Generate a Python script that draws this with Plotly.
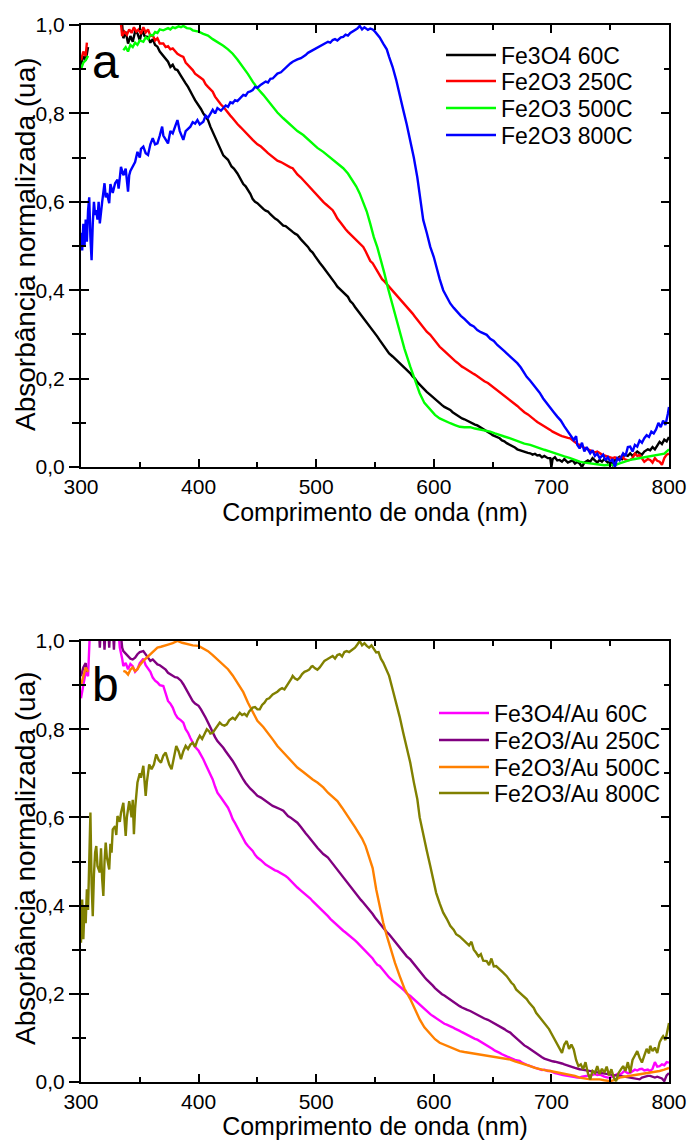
import plotly.graph_objects as go

# ---------------- data (wavelength nm, normalised absorbance) ----------------
# None pairs mark gaps in the recorded spectra
fe3o4_60c = [(300,0.91),(302,0.93),(304,0.92),(306,0.95),(None,None),(334,1.03),(336,0.97),(338,0.985),(340,0.958),(342,0.975),(344,0.962),(346,0.985),(348,0.981),(350,0.965),(352,0.99),(354,0.975),(357,0.973),(359,0.96),(361,0.968),(363,0.955),(365,0.951),(367,0.94),(370,0.93),(372,0.925),(374,0.917),(376,0.905),(378,0.91),(380,0.9),(382,0.898),(385,0.885),(387,0.875),(389,0.868),(391,0.86),(393,0.848),(395,0.84),(397,0.83),(400,0.819),(402,0.81),(404,0.8),(406,0.793),(408,0.785),(410,0.77),(412,0.758),(414,0.745),(416,0.732),(419,0.715),(421,0.705),(423,0.7),(425,0.695),(428,0.68),(430,0.675),(433,0.664),(436,0.65),(438,0.64),(440,0.635),(442,0.627),(444,0.618),(446,0.606),(448,0.6),(450,0.597),(453,0.588),(455,0.584),(457,0.58),(459,0.578),(461,0.572),(463,0.566),(465,0.562),(467,0.559),(470,0.55),(472,0.546),(474,0.545),(476,0.54),(478,0.535),(480,0.532),(482,0.528),(484,0.525),(487,0.515),(489,0.51),(491,0.505),(493,0.498),(495,0.49),(497,0.485),(499,0.477),(501,0.468),(503,0.462),(506,0.452),(508,0.445),(510,0.438),(512,0.432),(514,0.425),(516,0.416),(518,0.408),(521,0.4),(523,0.395),(525,0.389),(527,0.385),(529,0.375),(531,0.37),(533,0.362),(535,0.355),(538,0.345),(540,0.338),(542,0.332),(544,0.325),(546,0.317),(548,0.31),(550,0.302),(552,0.295),(554,0.287),(556,0.28),(558,0.272),(560,0.265),(562,0.257),(565,0.25),(567,0.245),(569,0.24),(571,0.235),(573,0.23),(575,0.224),(577,0.218),(580,0.212),(582,0.205),(584,0.2),(586,0.192),(588,0.186),(590,0.18),(592,0.175),(594,0.17),(597,0.163),(599,0.158),(601,0.153),(603,0.148),(605,0.144),(607,0.14),(609,0.136),(611,0.133),(614,0.129),(616,0.124),(618,0.12),(620,0.117),(622,0.114),(624,0.11),(626,0.108),(628,0.105),(631,0.102),(633,0.098),(635,0.096),(637,0.094),(639,0.091),(641,0.087),(643,0.084),(646,0.08),(648,0.076),(650,0.072),(652,0.07),(654,0.067),(656,0.065),(658,0.06),(660,0.058),(662,0.054),(665,0.05),(667,0.047),(669,0.044),(671,0.04),(673,0.038),(675,0.036),(677,0.034),(680,0.032),(682,0.031),(684,0.028),(686,0.03),(688,0.026),(690,0.027),(692,0.022),(694,0.025),(697,0.02),(699,0.02),(700,0.0),(701,0.018),(703,0.022),(705,0.015),(707,0.016),(709,0.012),(711,0.018),(714,0.01),(716,0.012),(718,0.015),(720,0.008),(722,0.012),(724,0.008),(726,0.0),(728,0.01),(731,0.015),(733,0.012),(735,0.02),(737,0.015),(739,0.01),(741,0.016),(743,0.012),(745,0.018),(748,0.01),(750,0.012),(752,0.005),(754,0.015),(756,0.02),(758,0.023),(760,0.018),(762,0.028),(765,0.025),(767,0.031),(769,0.025),(771,0.03),(773,0.035),(775,0.031),(777,0.028),(779,0.035),(782,0.04),(784,0.038),(786,0.045),(788,0.04),(790,0.05),(792,0.057),(794,0.052),(796,0.062),(798,0.058),(800,0.068)]

fe2o3_250c = [(300,0.92),(302,0.94),(304,0.93),(305,0.96),(None,None),(333,1.03),(335,0.975),(337,0.985),(339,0.978),(341,0.99),(343,0.982),(345,0.995),(347,0.985),(349,0.99),(351,0.98),(353,0.995),(355,0.983),(357,0.99),(359,0.975),(361,0.977),(363,0.965),(365,0.97),(367,0.958),(370,0.958),(372,0.95),(374,0.952),(376,0.945),(378,0.947),(380,0.94),(382,0.935),(385,0.93),(387,0.928),(389,0.915),(391,0.91),(393,0.905),(395,0.898),(397,0.89),(400,0.885),(402,0.88),(404,0.876),(406,0.866),(408,0.86),(410,0.855),(412,0.849),(414,0.838),(416,0.83),(419,0.82),(421,0.815),(423,0.808),(425,0.8),(427,0.795),(429,0.789),(431,0.782),(433,0.776),(436,0.768),(438,0.762),(440,0.757),(442,0.752),(444,0.745),(446,0.74),(448,0.735),(450,0.73),(453,0.725),(455,0.721),(457,0.715),(459,0.71),(461,0.706),(463,0.702),(465,0.697),(467,0.693),(470,0.69),(472,0.687),(474,0.683),(476,0.68),(478,0.678),(480,0.676),(482,0.668),(484,0.662),(487,0.655),(489,0.649),(491,0.643),(493,0.637),(495,0.632),(497,0.627),(499,0.62),(501,0.613),(503,0.607),(506,0.6),(508,0.595),(510,0.59),(512,0.585),(514,0.581),(516,0.572),(518,0.562),(521,0.552),(523,0.544),(525,0.538),(527,0.532),(529,0.527),(531,0.521),(533,0.515),(535,0.51),(538,0.503),(540,0.498),(542,0.488),(544,0.478),(546,0.466),(548,0.461),(550,0.452),(552,0.442),(554,0.432),(556,0.425),(558,0.42),(560,0.414),(562,0.408),(565,0.398),(567,0.392),(569,0.387),(571,0.382),(573,0.375),(575,0.369),(577,0.362),(580,0.355),(582,0.347),(584,0.34),(586,0.333),(588,0.325),(590,0.318),(592,0.312),(594,0.306),(597,0.299),(599,0.292),(601,0.285),(603,0.279),(605,0.272),(607,0.267),(609,0.262),(611,0.256),(614,0.25),(616,0.245),(618,0.24),(620,0.236),(622,0.231),(624,0.227),(626,0.224),(628,0.22),(631,0.216),(633,0.212),(635,0.209),(637,0.205),(639,0.201),(641,0.198),(643,0.194),(646,0.19),(648,0.186),(650,0.182),(652,0.178),(654,0.174),(656,0.17),(658,0.165),(660,0.161),(662,0.157),(665,0.152),(667,0.147),(669,0.142),(671,0.138),(673,0.133),(675,0.128),(677,0.124),(680,0.119),(682,0.114),(684,0.11),(686,0.106),(688,0.102),(690,0.099),(692,0.095),(694,0.092),(697,0.088),(699,0.084),(701,0.08),(703,0.077),(705,0.074),(707,0.072),(709,0.07),(711,0.068),(714,0.066),(716,0.065),(718,0.06),(720,0.055),(722,0.052),(724,0.05),(726,0.046),(728,0.043),(731,0.04),(733,0.038),(735,0.036),(737,0.033),(739,0.035),(741,0.031),(743,0.028),(745,0.026),(748,0.024),(750,0.023),(752,0.02),(754,0.022),(756,0.018),(758,0.02),(760,0.025),(762,0.018),(765,0.015),(767,0.016),(769,0.02),(771,0.03),(773,0.025),(775,0.027),(777,0.02),(779,0.012),(782,0.018),(784,0.016),(786,0.01),(788,0.02),(790,0.014),(792,0.012),(794,0.005),(796,0.02),(798,0.028),(800,0.03)]

fe2o3_500c = [(300,0.9),(302,0.915),(304,0.92),(306,0.93),(None,None),(336,0.943),(338,0.95),(340,0.94),(342,0.955),(344,0.95),(346,0.96),(348,0.955),(350,0.965),(353,0.962),(355,0.972),(357,0.968),(359,0.978),(361,0.976),(363,0.984),(365,0.982),(367,0.99),(370,0.988),(372,0.99),(374,0.993),(376,0.99),(378,0.995),(380,0.993),(383,0.997),(385,0.995),(387,0.998),(390,0.993),(393,0.992),(395,0.988),(398,0.986),(400,0.985),(404,0.98),(408,0.976),(412,0.968),(416,0.962),(421,0.953),(425,0.945),(429,0.935),(433,0.922),(438,0.905),(442,0.889),(446,0.872),(450,0.857),(455,0.842),(459,0.828),(463,0.815),(467,0.802),(472,0.789),(476,0.779),(480,0.77),(484,0.76),(489,0.751),(493,0.742),(497,0.732),(501,0.722),(506,0.713),(510,0.704),(514,0.695),(518,0.686),(523,0.676),(527,0.664),(531,0.649),(534,0.635),(537,0.619),(540,0.6),(543,0.578),(546,0.55),(549,0.52),(552,0.497),(555,0.47),(558,0.438),(561,0.405),(564,0.375),(567,0.345),(571,0.31),(575,0.268),(580,0.227),(584,0.195),(588,0.167),(592,0.145),(597,0.129),(601,0.118),(605,0.11),(610,0.103),(614,0.099),(618,0.095),(622,0.091),(626,0.09),(631,0.09),(635,0.087),(639,0.085),(643,0.083),(648,0.08),(652,0.076),(656,0.072),(660,0.069),(665,0.065),(669,0.061),(673,0.057),(677,0.053),(682,0.05),(686,0.046),(690,0.042),(694,0.039),(699,0.035),(703,0.031),(707,0.027),(711,0.024),(716,0.02),(720,0.016),(724,0.012),(728,0.01),(733,0.008),(737,0.006),(741,0.005),(745,0.004),(750,0.005),(754,0.004),(758,0.008),(762,0.012),(767,0.016),(771,0.018),(775,0.02),(779,0.022),(784,0.023),(788,0.025),(792,0.027),(796,0.03),(800,0.04)]

fe2o3_800c = [(300,0.53),(301,0.49),(302,0.55),(303,0.5),(304,0.56),(305,0.51),(306,0.58),(307,0.61),(308,0.52),(309,0.468),(310,0.55),(311,0.6),(312,0.57),(313,0.581),(314,0.56),(315,0.6),(316,0.551),(317,0.58),(318,0.6),(320,0.642),(321,0.61),(322,0.62),(324,0.597),(325,0.64),(327,0.62),(329,0.642),(331,0.65),(332,0.63),(334,0.679),(336,0.66),(338,0.675),(340,0.623),(341,0.66),(342,0.67),(344,0.679),(346,0.69),(348,0.713),(350,0.7),(351,0.72),(353,0.725),(355,0.71),(357,0.706),(359,0.73),(361,0.744),(363,0.73),(365,0.732),(367,0.75),(369,0.77),(370,0.75),(372,0.74),(374,0.732),(376,0.76),(378,0.755),(380,0.77),(382,0.785),(384,0.76),(386,0.745),(387,0.74),(389,0.76),(391,0.766),(393,0.77),(395,0.78),(397,0.777),(399,0.785),(401,0.775),(404,0.781),(406,0.795),(408,0.79),(410,0.8),(412,0.808),(414,0.8),(416,0.812),(419,0.806),(421,0.811),(423,0.818),(425,0.815),(427,0.825),(429,0.823),(431,0.83),(433,0.828),(436,0.838),(438,0.842),(440,0.84),(442,0.848),(444,0.85),(446,0.853),(448,0.86),(450,0.858),(453,0.865),(455,0.868),(457,0.872),(459,0.87),(461,0.878),(463,0.879),(465,0.885),(467,0.89),(470,0.893),(472,0.898),(474,0.905),(476,0.908),(478,0.913),(480,0.917),(482,0.92),(484,0.922),(487,0.925),(489,0.928),(491,0.932),(493,0.937),(495,0.94),(497,0.943),(499,0.945),(501,0.948),(503,0.952),(506,0.955),(508,0.958),(510,0.962),(512,0.96),(514,0.966),(516,0.968),(518,0.965),(521,0.972),(523,0.973),(525,0.978),(527,0.976),(529,0.982),(531,0.985),(533,0.988),(535,0.992),(537,0.998),(539,0.99),(541,0.995),(544,0.989),(546,0.992),(548,0.99),(550,0.985),(552,0.978),(554,0.972),(557,0.958),(560,0.945),(562,0.928),(565,0.905),(568,0.876),(571,0.845),(574,0.808),(577,0.775),(580,0.74),(583,0.7),(586,0.655),(589,0.595),(591,0.559),(594,0.53),(597,0.498),(600,0.475),(602,0.453),(605,0.425),(608,0.4),(611,0.385),(614,0.37),(617,0.36),(620,0.35),(623,0.342),(626,0.335),(628,0.329),(631,0.322),(634,0.318),(637,0.31),(640,0.305),(643,0.302),(645,0.299),(648,0.29),(651,0.285),(654,0.276),(657,0.27),(660,0.262),(662,0.257),(665,0.25),(668,0.242),(671,0.235),(674,0.225),(677,0.212),(679,0.204),(682,0.195),(685,0.185),(688,0.174),(690,0.168),(693,0.155),(696,0.144),(699,0.135),(702,0.124),(705,0.114),(708,0.105),(711,0.092),(713,0.084),(716,0.072),(719,0.061),(721,0.07),(722,0.05),(724,0.042),(726,0.055),(728,0.035),(730,0.045),(733,0.031),(735,0.038),(737,0.025),(739,0.03),(741,0.02),(744,0.028),(746,0.015),(748,0.022),(750,0.012),(752,0.018),(754,0.0),(756,0.02),(758,0.015),(761,0.031),(763,0.025),(765,0.045),(767,0.046),(769,0.035),(771,0.05),(773,0.046),(775,0.06),(777,0.055),(779,0.065),(781,0.072),(783,0.068),(785,0.08),(787,0.076),(789,0.085),(791,0.1),(793,0.09),(795,0.105),(797,0.095),(799,0.12),(800,0.136)]

fe3o4_au_60c = [(300,0.87),(302,0.9),(304,0.93),(306,0.92),(307,0.97),(308,1.05),(None,None),(331,1.05),(333,0.985),(335,0.96),(336,0.943),(338,0.95),(340,0.936),(342,0.948),(344,0.943),(346,0.93),(348,0.936),(350,0.95),(352,0.958),(353,0.96),(355,0.945),(357,0.936),(359,0.93),(361,0.917),(363,0.91),(365,0.906),(367,0.9),(370,0.898),(372,0.88),(374,0.864),(376,0.858),(378,0.849),(380,0.835),(382,0.826),(385,0.82),(387,0.815),(389,0.8),(391,0.792),(393,0.78),(395,0.769),(397,0.76),(400,0.751),(402,0.742),(404,0.732),(406,0.72),(408,0.709),(410,0.698),(412,0.686),(414,0.67),(416,0.656),(419,0.645),(421,0.637),(423,0.63),(425,0.622),(427,0.61),(429,0.596),(431,0.587),(433,0.577),(436,0.562),(438,0.55),(440,0.542),(442,0.535),(444,0.53),(446,0.524),(448,0.515),(450,0.509),(453,0.503),(455,0.497),(457,0.493),(459,0.49),(461,0.486),(463,0.482),(465,0.48),(467,0.478),(470,0.474),(472,0.471),(474,0.467),(476,0.463),(478,0.457),(480,0.452),(482,0.447),(484,0.441),(487,0.434),(489,0.43),(491,0.426),(493,0.422),(495,0.416),(497,0.41),(499,0.405),(501,0.399),(503,0.394),(506,0.387),(508,0.381),(510,0.376),(512,0.37),(514,0.365),(516,0.36),(518,0.354),(521,0.347),(523,0.343),(525,0.339),(527,0.335),(529,0.33),(531,0.326),(533,0.321),(535,0.316),(538,0.308),(540,0.302),(542,0.296),(544,0.29),(546,0.286),(548,0.28),(550,0.272),(552,0.266),(554,0.263),(556,0.256),(558,0.249),(560,0.243),(562,0.237),(565,0.23),(567,0.226),(569,0.222),(571,0.218),(573,0.212),(575,0.207),(577,0.201),(580,0.195),(582,0.19),(584,0.186),(586,0.181),(588,0.176),(590,0.171),(592,0.165),(594,0.16),(597,0.154),(599,0.15),(601,0.146),(603,0.142),(605,0.138),(607,0.135),(609,0.132),(611,0.13),(614,0.127),(616,0.124),(618,0.121),(620,0.119),(622,0.116),(624,0.113),(626,0.11),(628,0.107),(631,0.104),(633,0.101),(635,0.098),(637,0.096),(639,0.093),(641,0.089),(643,0.086),(646,0.082),(648,0.078),(650,0.075),(652,0.071),(654,0.069),(656,0.066),(658,0.063),(660,0.06),(662,0.058),(665,0.055),(667,0.052),(669,0.05),(671,0.049),(673,0.048),(675,0.044),(677,0.041),(680,0.038),(682,0.036),(684,0.034),(686,0.032),(688,0.03),(690,0.029),(692,0.027),(694,0.028),(697,0.025),(699,0.025),(701,0.022),(703,0.02),(705,0.019),(707,0.017),(709,0.016),(711,0.015),(714,0.014),(716,0.014),(718,0.012),(720,0.011),(722,0.01),(724,0.01),(726,0.012),(728,0.013),(731,0.014),(733,0.014),(735,0.016),(737,0.018),(739,0.016),(741,0.017),(743,0.014),(745,0.012),(748,0.01),(750,0.01),(752,0.012),(754,0.015),(756,0.018),(758,0.017),(760,0.02),(762,0.025),(765,0.02),(767,0.021),(769,0.025),(771,0.028),(773,0.026),(775,0.029),(777,0.03),(779,0.026),(782,0.028),(784,0.025),(786,0.03),(788,0.045),(790,0.035),(792,0.036),(794,0.04),(796,0.038),(798,0.045),(800,0.044)]

fe2o3_au_250c = [(300,0.92),(302,0.94),(304,0.95),(305,0.93),(None,None),(315,1.04),(316,0.985),(317,1.04),(None,None),(319,1.04),(320,0.98),(321,1.04),(None,None),(323,1.04),(324,0.985),(325,1.04),(None,None),(327,1.04),(328,0.98),(329,1.04),(None,None),(333,1.04),(335,0.985),(336,0.977),(338,0.972),(340,0.966),(342,0.96),(344,0.958),(346,0.962),(348,0.97),(350,0.975),(353,0.977),(355,0.97),(357,0.962),(359,0.955),(361,0.958),(363,0.952),(365,0.947),(367,0.945),(370,0.94),(372,0.935),(374,0.928),(376,0.925),(378,0.921),(380,0.918),(382,0.917),(385,0.91),(387,0.902),(389,0.892),(391,0.883),(393,0.875),(395,0.864),(397,0.858),(400,0.853),(402,0.845),(404,0.837),(406,0.826),(408,0.815),(410,0.803),(412,0.792),(414,0.782),(416,0.773),(419,0.765),(421,0.758),(423,0.75),(425,0.743),(427,0.735),(429,0.728),(431,0.719),(433,0.709),(436,0.697),(438,0.686),(440,0.678),(442,0.671),(444,0.665),(446,0.66),(448,0.654),(450,0.649),(453,0.645),(455,0.641),(457,0.637),(459,0.633),(461,0.629),(463,0.626),(465,0.624),(467,0.622),(470,0.618),(472,0.615),(474,0.609),(476,0.603),(478,0.6),(480,0.596),(482,0.592),(484,0.588),(487,0.578),(489,0.57),(491,0.564),(493,0.558),(495,0.552),(497,0.545),(499,0.538),(501,0.531),(503,0.525),(506,0.517),(508,0.513),(510,0.509),(512,0.502),(514,0.495),(516,0.488),(518,0.482),(521,0.472),(523,0.466),(525,0.459),(527,0.452),(529,0.445),(531,0.437),(533,0.43),(535,0.422),(538,0.413),(540,0.407),(542,0.401),(544,0.395),(546,0.388),(548,0.381),(550,0.373),(552,0.366),(554,0.36),(556,0.353),(558,0.346),(560,0.34),(562,0.335),(565,0.325),(567,0.318),(569,0.311),(571,0.305),(573,0.298),(575,0.291),(577,0.285),(580,0.278),(582,0.271),(584,0.265),(586,0.258),(588,0.252),(590,0.245),(592,0.238),(594,0.232),(597,0.225),(599,0.219),(601,0.213),(603,0.208),(605,0.203),(607,0.199),(609,0.196),(611,0.192),(614,0.188),(616,0.184),(618,0.18),(620,0.176),(622,0.172),(624,0.169),(626,0.166),(628,0.164),(631,0.161),(633,0.158),(635,0.155),(637,0.152),(639,0.15),(641,0.147),(643,0.144),(646,0.141),(648,0.138),(650,0.136),(652,0.133),(654,0.13),(656,0.127),(658,0.124),(660,0.12),(662,0.116),(665,0.112),(667,0.107),(669,0.102),(671,0.097),(673,0.093),(675,0.088),(677,0.083),(680,0.078),(682,0.074),(684,0.07),(686,0.066),(688,0.062),(690,0.059),(692,0.056),(694,0.053),(697,0.05),(699,0.048),(701,0.047),(703,0.046),(705,0.045),(707,0.044),(709,0.042),(711,0.04),(714,0.038),(716,0.036),(718,0.034),(720,0.032),(722,0.03),(724,0.029),(726,0.028),(728,0.027),(731,0.026),(733,0.025),(735,0.024),(737,0.023),(739,0.022),(741,0.021),(743,0.02),(745,0.019),(748,0.018),(750,0.017),(752,0.016),(754,0.015),(756,0.015),(758,0.014),(760,0.013),(762,0.012),(765,0.011),(767,0.01),(769,0.009),(771,0.008),(773,0.007),(775,0.006),(777,0.01),(779,0.012),(782,0.014),(784,0.014),(786,0.012),(788,0.01),(790,0.012),(792,0.01),(794,0.008),(796,0.002),(798,0.015),(800,0.02)]

fe2o3_au_500c = [(300,0.9),(302,0.92),(304,0.94),(306,0.93),(None,None),(336,0.932),(338,0.93),(340,0.924),(342,0.935),(344,0.94),(346,0.932),(348,0.936),(350,0.945),(353,0.955),(355,0.96),(357,0.966),(359,0.972),(361,0.977),(363,0.98),(365,0.985),(368,0.987),(370,0.989),(374,0.992),(378,0.995),(382,1.0),(386,0.996),(391,0.992),(395,0.99),(400,0.989),(404,0.983),(408,0.977),(412,0.968),(416,0.958),(421,0.947),(425,0.936),(429,0.922),(433,0.906),(438,0.884),(442,0.86),(446,0.84),(450,0.819),(455,0.805),(459,0.792),(463,0.777),(467,0.762),(472,0.748),(476,0.735),(480,0.724),(484,0.713),(489,0.703),(493,0.694),(497,0.686),(501,0.679),(506,0.668),(510,0.656),(514,0.647),(518,0.637),(522,0.622),(527,0.603),(530,0.59),(533,0.578),(536,0.565),(539,0.552),(542,0.535),(545,0.512),(548,0.485),(551,0.437),(554,0.4),(557,0.361),(560,0.332),(563,0.305),(567,0.27),(571,0.24),(575,0.212),(580,0.188),(584,0.163),(588,0.142),(592,0.124),(597,0.108),(601,0.097),(605,0.089),(610,0.083),(614,0.078),(618,0.074),(622,0.07),(626,0.068),(631,0.066),(635,0.064),(639,0.063),(643,0.061),(648,0.059),(652,0.057),(656,0.055),(660,0.053),(665,0.051),(669,0.047),(673,0.044),(677,0.04),(682,0.036),(686,0.032),(690,0.029),(694,0.027),(699,0.025),(703,0.023),(707,0.021),(711,0.019),(716,0.017),(720,0.014),(724,0.01),(728,0.008),(733,0.006),(737,0.006),(741,0.006),(745,0.004),(750,0.002),(754,0.005),(758,0.01),(762,0.012),(767,0.014),(771,0.016),(775,0.017),(779,0.019),(784,0.021),(788,0.023),(792,0.025),(796,0.028),(800,0.032)]

fe2o3_au_800c = [(300,0.316),(301,0.414),(302,0.324),(303,0.4),(304,0.36),(305,0.437),(306,0.39),(307,0.5),(308,0.611),(309,0.45),(310,0.376),(311,0.47),(312,0.52),(313,0.535),(314,0.49),(316,0.475),(317,0.53),(318,0.46),(319,0.422),(320,0.5),(321,0.543),(322,0.51),(324,0.482),(325,0.54),(326,0.52),(327,0.573),(329,0.58),(330,0.56),(331,0.603),(333,0.59),(334,0.61),(336,0.633),(337,0.6),(338,0.558),(339,0.6),(340,0.62),(341,0.637),(342,0.62),(343,0.6),(344,0.64),(345,0.562),(346,0.62),(347,0.65),(348,0.679),(350,0.7),(351,0.69),(353,0.717),(354,0.68),(355,0.649),(356,0.68),(357,0.7),(358,0.72),(360,0.709),(362,0.72),(364,0.743),(366,0.73),(368,0.724),(370,0.74),(372,0.747),(374,0.73),(375,0.72),(377,0.709),(379,0.74),(381,0.762),(383,0.75),(385,0.732),(387,0.75),(389,0.762),(391,0.755),(393,0.765),(395,0.769),(397,0.76),(399,0.775),(401,0.785),(403,0.778),(405,0.79),(407,0.8),(409,0.795),(410,0.79),(412,0.792),(414,0.8),(416,0.805),(418,0.815),(420,0.81),(422,0.808),(424,0.811),(426,0.82),(429,0.826),(431,0.822),(433,0.83),(435,0.837),(437,0.832),(439,0.835),(441,0.83),(443,0.84),(446,0.849),(448,0.85),(450,0.845),(452,0.845),(454,0.855),(456,0.86),(458,0.868),(460,0.87),(463,0.879),(465,0.882),(467,0.885),(469,0.89),(471,0.893),(473,0.89),(475,0.898),(477,0.905),(479,0.915),(480,0.921),(482,0.915),(484,0.912),(486,0.917),(488,0.925),(490,0.93),(492,0.932),(494,0.935),(496,0.942),(497,0.943),(499,0.938),(501,0.935),(503,0.94),(505,0.948),(507,0.955),(509,0.958),(511,0.962),(514,0.966),(516,0.96),(518,0.968),(520,0.97),(522,0.965),(524,0.975),(526,0.977),(528,0.975),(531,0.981),(533,0.985),(535,0.992),(537,1.0),(539,0.99),(541,0.995),(543,0.989),(545,0.985),(547,0.99),(549,0.982),(551,0.974),(553,0.975),(555,0.96),(557,0.951),(560,0.935),(562,0.921),(565,0.89),(568,0.86),(571,0.828),(574,0.792),(577,0.76),(580,0.724),(583,0.68),(586,0.641),(588,0.6),(591,0.558),(594,0.525),(597,0.49),(600,0.455),(602,0.429),(605,0.405),(608,0.384),(611,0.37),(614,0.354),(617,0.345),(619,0.335),(622,0.33),(625,0.322),(628,0.316),(630,0.31),(632,0.318),(634,0.3),(636,0.293),(638,0.285),(640,0.29),(642,0.275),(645,0.274),(647,0.265),(649,0.28),(651,0.262),(653,0.263),(655,0.258),(657,0.255),(659,0.248),(662,0.24),(664,0.232),(666,0.225),(668,0.22),(670,0.21),(672,0.205),(674,0.2),(676,0.195),(679,0.188),(681,0.18),(683,0.175),(685,0.168),(687,0.157),(689,0.15),(691,0.145),(693,0.137),(696,0.127),(698,0.12),(700,0.11),(702,0.1),(704,0.089),(706,0.08),(709,0.066),(711,0.085),(713,0.093),(715,0.075),(717,0.085),(719,0.074),(721,0.05),(723,0.036),(725,0.04),(727,0.029),(729,0.045),(731,0.02),(733,0.006),(735,0.025),(737,0.02),(739,0.036),(741,0.018),(743,0.03),(745,0.021),(747,0.035),(749,0.015),(751,0.029),(753,0.01),(755,0.002),(757,0.02),(759,0.028),(761,0.036),(763,0.025),(765,0.045),(767,0.021),(769,0.05),(771,0.06),(773,0.07),(775,0.055),(777,0.044),(779,0.06),(781,0.075),(783,0.065),(784,0.082),(786,0.07),(788,0.078),(790,0.066),(792,0.09),(794,0.1),(795,0.104),(797,0.095),(799,0.125),(800,0.134)]

names_a = ["Fe3O4 60C", "Fe2O3 250C", "Fe2O3 500C", "Fe2O3 800C"]
names_b = ["Fe3O4/Au 60C", "Fe2O3/Au 250C", "Fe2O3/Au 500C", "Fe2O3/Au 800C"]
colors_a = ["#000000", "#FF0000", "#00FF00", "#0000FF"]
colors_b = ["#FF00FF", "#800080", "#FF8000", "#808000"]
data_a = [fe3o4_60c, fe2o3_250c, fe2o3_500c, fe2o3_800c]
data_b = [fe3o4_au_60c, fe2o3_au_250c, fe2o3_au_500c, fe2o3_au_800c]

x_ticks = [300, 400, 500, 600, 700, 800]
y_ticks = [0.0, 0.2, 0.4, 0.6, 0.8, 1.0]
x_title = "Comprimento de onda (nm)"
y_title = "Absorbância normalizada (ua)"
panel_labels = ["a", "b"]

# ---------------- figure ----------------
W, H = 689, 1140
ML, MR, MT, MB = 81, 20, 25, 58
PH = H - MT - MB
PW = W - ML - MR
FONT = "Liberation Sans, Arial, Helvetica, sans-serif"
LW = 2.4


def fy(px):
    return (H - MB - px) / PH


def fx(px):
    return (px - ML) / PW


legend_ids = ["legend"] + ["legend%d" % i for i in range(2, 9)]

fig = go.Figure()
for i, (name, data, col) in enumerate(zip(names_a, data_a, colors_a)):
    fig.add_trace(go.Scatter(x=[p[0] for p in data], y=[p[1] for p in data], mode="lines",
                             name=name, line=dict(color=col, width=LW),
                             xaxis="x", yaxis="y", legend=legend_ids[i]))
for i, (name, data, col) in enumerate(zip(names_b, data_b, colors_b)):
    fig.add_trace(go.Scatter(x=[p[0] for p in data], y=[p[1] for p in data], mode="lines",
                             name=name, line=dict(color=col, width=LW),
                             xaxis="x2", yaxis="y2", legend=legend_ids[4 + i]))
# empty helper traces so the inner-tick overlay axes get drawn
fig.add_trace(go.Scatter(x=[None], y=[None], xaxis="x", yaxis="y3", showlegend=False, hoverinfo="skip"))
fig.add_trace(go.Scatter(x=[None], y=[None], xaxis="x2", yaxis="y4", showlegend=False, hoverinfo="skip"))

top_dom = [fy(467), 1.0]
bot_dom = [0.0, fy(641)]


def xaxis_cfg(anchor):
    return dict(anchor=anchor, domain=[0, 1], range=[300, 800], tickvals=x_ticks,
                showline=True, linecolor="black", linewidth=2, mirror="ticks",
                ticks="inside", ticklen=8, tickwidth=2, tickcolor="black",
                minor=dict(ticks="inside", ticklen=5, tickwidth=1.5, tickcolor="black", dtick=50, tick0=300),
                showgrid=False, zeroline=False, automargin=False,
                tickfont=dict(size=21, color="black", family=FONT),
                title=dict(text=x_title, font=dict(size=25, color="black", family=FONT), standoff=1))


def yaxis_cfg(anchor, dom):
    return dict(anchor=anchor, domain=dom, range=[0, 1], tickvals=y_ticks, tickformat=".1f",
                showline=True, linecolor="black", linewidth=2, mirror=True,
                ticks="outside", ticklen=10, tickwidth=2, tickcolor="black",
                minor=dict(ticks="outside", ticklen=7, tickwidth=1.5, tickcolor="black", dtick=0.1, tick0=0),
                showgrid=False, zeroline=False, automargin=False,
                tickfont=dict(size=21, color="black", family=FONT))


def yinner_cfg(anchor, over):
    return dict(anchor=anchor, overlaying=over, range=[0, 1], tickvals=y_ticks,
                showline=False, mirror="ticks", showticklabels=False,
                ticks="inside", ticklen=8, tickwidth=2, tickcolor="black",
                minor=dict(ticks="inside", ticklen=5, tickwidth=1.5, tickcolor="black", dtick=0.1, tick0=0),
                showgrid=False, zeroline=False, automargin=False)


def legend_cfg(xpx, ypx):
    return dict(x=fx(xpx), y=fy(ypx), xanchor="left", yanchor="middle", bgcolor="rgba(0,0,0,0)",
                font=dict(size=23, color="black", family=FONT),
                itemwidth=50, borderwidth=0)


legend_centers_a = [55, 81, 108, 135]
legend_centers_b = [713, 740, 767, 793]
legends = {}
for i, yc in enumerate(legend_centers_a):
    legends[legend_ids[i]] = legend_cfg(441, yc)
for i, yc in enumerate(legend_centers_b):
    legends[legend_ids[4 + i]] = legend_cfg(434, yc)

annotations = [
    dict(text=panel_labels[0], xref="paper", yref="paper", x=fx(90), y=fy(61),
         xanchor="left", yanchor="middle", showarrow=False,
         font=dict(size=48, color="black", family=FONT)),
    dict(text=panel_labels[1], xref="paper", yref="paper", x=fx(90), y=fy(684),
         xanchor="left", yanchor="middle", showarrow=False,
         font=dict(size=48, color="black", family=FONT)),
    dict(text=y_title, xref="paper", yref="paper", x=fx(25), y=fy(244), textangle=-90,
         xanchor="center", yanchor="middle", showarrow=False,
         font=dict(size=28, color="black", family=FONT)),
    dict(text=y_title, xref="paper", yref="paper", x=fx(25), y=fy(858), textangle=-90,
         xanchor="center", yanchor="middle", showarrow=False,
         font=dict(size=28, color="black", family=FONT)),
]

fig.update_layout(
    width=W, height=H, margin=dict(l=ML, r=MR, t=MT, b=MB, pad=0),
    paper_bgcolor="white", plot_bgcolor="white",
    font=dict(family=FONT, color="black"),
    separators=", ",
    showlegend=True,
    xaxis=xaxis_cfg("y"), yaxis=yaxis_cfg("x", top_dom),
    xaxis2=xaxis_cfg("y2"), yaxis2=yaxis_cfg("x2", bot_dom),
    yaxis3=yinner_cfg("x", "y"), yaxis4=yinner_cfg("x2", "y2"),
    annotations=annotations,
    **legends,
)

fig.write_html("out.html")
